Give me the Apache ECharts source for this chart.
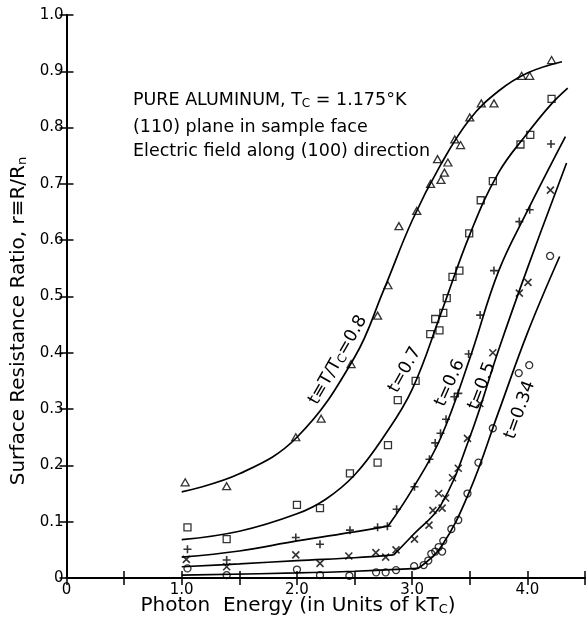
<!DOCTYPE html>
<html>
<head>
<meta charset="utf-8">
<script src="https://cdn.jsdelivr.net/npm/echarts@6/dist/echarts.min.js"></script>
<style>
html, body { margin: 0; padding: 0; background: #fff; }
#chart { width: 588px; height: 622px; }
</style>
</head>
<body>
<div id="chart"></div>
<script>
// measured points: [photon energy (kTc), r = R/Rn]
const tri08 = [[1.03,0.17],[1.39,0.163],[1.99,0.25],[2.21,0.283],[2.47,0.38],[2.70,0.466],[2.79,0.52],
  [2.885,0.625],[3.04,0.652],[3.16,0.70],[3.25,0.707],[3.28,0.72],[3.31,0.738],[3.22,0.744],[3.37,0.779],
  [3.42,0.769],[3.50,0.818],[3.60,0.843],[3.71,0.843],[3.95,0.892],[4.02,0.892],[4.21,0.92]];
const sq07 = [[1.05,0.09],[1.39,0.069],[2.0,0.13],[2.2,0.124],[2.46,0.186],[2.70,0.205],[2.79,0.236],
  [2.875,0.316],[3.03,0.35],[3.157,0.433],[3.20,0.46],[3.237,0.44],[3.27,0.471],[3.30,0.497],[3.35,0.535],
  [3.41,0.546],[3.495,0.612],[3.595,0.671],[3.70,0.705],[3.94,0.77],[4.025,0.787],[4.21,0.851]];
const plus06 = [[1.05,0.051],[1.39,0.032],[1.99,0.072],[2.2,0.06],[2.46,0.085],[2.70,0.09],[2.785,0.092],
  [2.865,0.122],[3.02,0.162],[3.15,0.211],[3.20,0.24],[3.246,0.257],[3.294,0.282],[3.366,0.322],[3.40,0.328],
  [3.49,0.398],[3.59,0.467],[3.71,0.546],[3.93,0.633],[4.02,0.654],[4.205,0.771]];
const x05 = [[1.04,0.033],[1.39,0.02],[1.99,0.041],[2.2,0.026],[2.45,0.039],[2.685,0.045],[2.77,0.037],
  [2.86,0.05],[3.02,0.069],[3.146,0.094],[3.18,0.12],[3.26,0.124],[3.23,0.15],[3.29,0.142],[3.35,0.178],
  [3.40,0.195],[3.48,0.248],[3.587,0.31],[3.70,0.40],[3.93,0.506],[4.005,0.525],[4.2,0.689]];
const circ034 = [[1.05,0.017],[1.39,0.005],[2.0,0.015],[2.2,0.005],[2.455,0.004],[2.687,0.01],[2.77,0.01],
  [2.86,0.014],[3.017,0.021],[3.10,0.023],[3.14,0.031],[3.166,0.043],[3.20,0.047],[3.23,0.055],[3.26,0.047],
  [3.27,0.066],[3.34,0.087],[3.40,0.103],[3.48,0.15],[3.575,0.205],[3.70,0.266],[3.925,0.364],[4.016,0.378],
  [4.197,0.572]];

// drawn curves
const curve08 = [[1.0,0.153],[1.5,0.185],[2.0,0.25],[2.5,0.392],[2.75,0.51],[3.0,0.635],[3.25,0.735],
  [3.5,0.815],[3.75,0.865],[4.0,0.897],[4.3,0.917]];
const curve07 = [[1.0,0.068],[1.5,0.083],[2.0,0.114],[2.25,0.14],[2.5,0.183],[2.75,0.25],[3.0,0.335],
  [3.25,0.47],[3.5,0.61],[3.75,0.72],[4.0,0.79],[4.2,0.84],[4.35,0.87]];
const curve06Low = [[1.0,0.037],[1.5,0.048],[2.0,0.066],[2.5,0.082],[2.79,0.092]];
const curve06High = [[2.79,0.092],[3.0,0.157],[3.25,0.25],[3.5,0.39],[3.75,0.545],[4.0,0.652],[4.33,0.784]];
const curve05Low = [[1.0,0.02],[1.5,0.025],[2.0,0.031],[2.5,0.036],[2.84,0.041]];
const curve05High = [[2.84,0.041],[3.0,0.075],[3.25,0.13],[3.5,0.25],[3.75,0.405],[4.0,0.55],[4.34,0.737]];
const curve034Low = [[1.0,0.005],[2.0,0.009],[2.5,0.012],[3.05,0.017]];
const curve034High = [[3.05,0.017],[3.25,0.055],[3.5,0.155],[3.75,0.295],[4.0,0.435],[4.28,0.571]];

const FONT = 'DejaVu Sans';
const chart = echarts.init(document.getElementById('chart'), null, { renderer: 'canvas' });

function curve(data) {
  return {
    type: 'line', data: data, smooth: 0.4, showSymbol: false, silent: true,
    lineStyle: { color: '#000', width: 1.7 }, z: 2
  };
}
function points(data, symbol, size, bw) {
  return {
    type: 'scatter', data: data, symbol: symbol, symbolSize: size, silent: true,
    itemStyle: { color: 'none', borderColor: '#000', borderWidth: bw || 1.3 }, z: 3
  };
}

const axisLine = { show: true, lineStyle: { color: '#000', width: 2 } };
const axisTick = { show: true, inside: true, length: 7, lineStyle: { color: '#000', width: 1.5 } };
const sub = { fontSize: 12, fontFamily: FONT, padding: [7, 0, 0, 0] };
const txt = { fontSize: 17.5, fontFamily: FONT };
const big = { fontSize: 20, fontFamily: FONT };
const bigSub = { fontSize: 13, fontFamily: FONT, padding: [8, 0, 0, 0] };

function curveLabel(text, x, y, deg) {
  return {
    type: 'text', x: x, y: y, rotation: deg * Math.PI / 180, silent: true,
    style: { text: text, align: 'center', verticalAlign: 'middle', fill: '#000',
      rich: { n: txt, s: sub } }
  };
}

chart.setOption({
  animation: false,
  backgroundColor: '#fff',
  grid: { left: 66.5, top: 15, width: 524, height: 563 },
  xAxis: [{
    type: 'value', min: 0, max: 4.5, interval: 0.5, position: 'bottom',
    axisLine: axisLine, axisTick: axisTick, splitLine: { show: false },
    axisLabel: {
      color: '#000', fontFamily: FONT, fontSize: 15, margin: 5,
      formatter: function (v) {
        if (v === 0) return '0';
        return Number.isInteger(v) && v < 4.5 ? v.toFixed(1) : '';
      }
    }
  }, {
    type: 'value', min: 0, max: 4.5, interval: 0.5, position: 'top',
    axisLine: axisLine, axisTick: axisTick, splitLine: { show: false }, axisLabel: { show: false }
  }],
  yAxis: [{
    type: 'value', min: 0, max: 1, interval: 0.1, position: 'left',
    axisLine: axisLine, axisTick: axisTick, splitLine: { show: false },
    axisLabel: {
      color: '#000', fontFamily: FONT, fontSize: 15, margin: 3,
      formatter: function (v) { return v === 0 ? '0' : v.toFixed(1); }
    }
  }, {
    type: 'value', min: 0, max: 1, interval: 0.1, position: 'right',
    axisLine: axisLine, axisTick: axisTick, splitLine: { show: false }, axisLabel: { show: false }
  }],
  graphic: [
    {
      type: 'text', x: 19, y: 321, rotation: Math.PI / 2, silent: true,
      style: { text: '{n|Surface Resistance Ratio, r\u2261R/R}{s|n}', align: 'center', verticalAlign: 'middle',
        fill: '#000', rich: { n: big, s: bigSub } }
    },
    {
      type: 'text', x: 298, y: 606, silent: true,
      style: { text: '{n|Photon  Energy (in Units of kT}{s|C}{n|)}', align: 'center', verticalAlign: 'middle',
        fill: '#000', rich: { n: big, s: bigSub } }
    },
    {
      type: 'text', x: 133, y: 100, silent: true,
      style: { text: '{n|PURE ALUMINUM, T}{s|C}{n| = 1.175\u00b0K}', align: 'left', verticalAlign: 'middle',
        fill: '#000', rich: { n: txt, s: sub } }
    },
    {
      type: 'text', x: 133, y: 127, silent: true,
      style: { text: '(110) plane in sample face', align: 'left', verticalAlign: 'middle',
        fill: '#000', fontSize: 17.5, fontFamily: FONT }
    },
    {
      type: 'text', x: 133, y: 151, silent: true,
      style: { text: 'Electric field along (100) direction', align: 'left', verticalAlign: 'middle',
        fill: '#000', fontSize: 17.5, fontFamily: FONT }
    },
    curveLabel('{n|t\u2261T/T}{s|C}{n|=0.8}', 338, 360, 60),
    curveLabel('{n|t=0.7}', 405, 370, 61),
    curveLabel('{n|t=0.6}', 450, 383, 66),
    curveLabel('{n|t=0.5}', 482, 386, 69),
    curveLabel('{n|t=0.34}', 520, 410, 70)
  ],
  series: [
    curve(curve08), curve(curve07),
    curve(curve06Low), curve(curve06High),
    curve(curve05Low), curve(curve05High),
    curve(curve034Low), curve(curve034High),
    points(tri08, 'triangle', [8, 7]),
    points(sq07, 'rect', 7),
    points(plus06, 'path://M5,0V10M0,5H10', 8, 1.6),
    points(x05, 'path://M0,0L10,10M10,0L0,10', 7, 1.6),
    points(circ034, 'circle', 7)
  ]
});
</script>
</body>
</html>
